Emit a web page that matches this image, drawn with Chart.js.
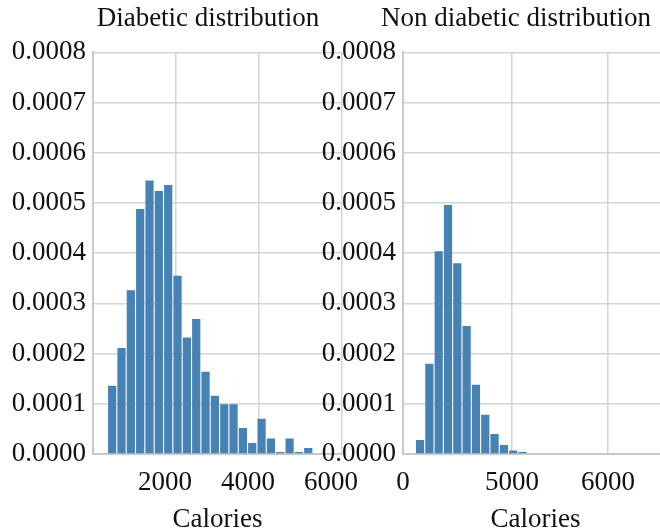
<!DOCTYPE html>
<html>
<head>
<meta charset="utf-8">
<script src="https://cdn.jsdelivr.net/npm/chart.js@4/dist/chart.umd.min.js"></script>
<style>
  html, body { margin: 0; padding: 0; background: #fff; overflow: hidden; width: 660px; height: 529px; }
  canvas { position: absolute; top: 0; }
  #leftChart { left: 0; }
  #rightChart { left: 320px; }
</style>
</head>
<body>
<canvas id="leftChart" width="416" height="540"></canvas>
<canvas id="rightChart" width="392" height="540"></canvas>
<script>
  // histogram bin centres (calories) and densities
  const diabeticBins = [462, 687, 912, 1137, 1362, 1587, 1812, 2037, 2262, 2487, 2712,
    2937, 3162, 3387, 3612, 3837, 4062, 4287, 4512, 4737, 4962, 5187];
  const diabeticDensity = [0.000136, 0.000211, 0.000326, 0.000488, 0.000545, 0.000524,
    0.000536, 0.000355, 0.000232, 0.000269, 0.000164, 0.000116, 0.000099, 0.000099,
    0.000052, 0.000022, 0.00007, 0.000031, 0.000004, 0.000031, 0.000004, 0.000012];

  const nonDiabeticBins = [412, 637, 862, 1087, 1312, 1537, 1762, 1987, 2212, 2437, 2662, 2887];
  const nonDiabeticDensity = [0.000028, 0.00018, 0.000404, 0.000496, 0.00038, 0.000255,
    0.000138, 0.000078, 0.00004, 0.000018, 0.000007, 0.000004];

  // x tick positions and the labels printed under them
  const leftTickValues = [2000, 4000, 6000];
  const leftTickLabels = ["2000", "4000", "6000"];
  const rightTickValues = [0, 2630, 4950];
  const rightTickLabels = ["0", "5000", "6000"];

  const serif = "'Liberation Serif', 'Times New Roman', serif";
  const gridColor = "#d4d4d4";
  const barColor = "#4682b4";

  // spacerWidth: empty right-hand box so the title centres where the original has it
  function makeChart(id, title, bins, values, xMax, tickValues, tickLabels, yWidth, spacerWidth, labelOffset) {
    new Chart(document.getElementById(id), {
      type: "bar",
      data: {
        datasets: [
          {
            data: bins.map((b, i) => ({ x: b, y: values[i] })),
            backgroundColor: barColor,
            barPercentage: 0.88,
            categoryPercentage: 1,
          },
        ],
      },
      options: {
        responsive: false,
        animation: false,
        layout: { padding: 0 },
        plugins: {
          legend: { display: false },
          tooltip: { enabled: false },
          title: {
            display: true,
            text: title,
            color: "#111",
            font: { family: serif, size: 27, weight: "normal" },
            padding: { top: 3, bottom: 17 },
          },
        },
        scales: {
          x: {
            type: "linear",
            min: 0,
            max: xMax,
            offset: false,
            afterBuildTicks: (scale) => {
              scale.ticks = tickValues.map((v) => ({ value: v }));
            },
            afterFit: (scale) => {
              scale.height = 86;
            },
            grid: { color: gridColor, lineWidth: 1.5, drawTicks: false, offset: false },
            border: { color: "#c8c8c8", width: 2 },
            ticks: {
              autoSkip: false,
              maxRotation: 0,
              padding: 13,
              labelOffset: labelOffset,
              color: "#111",
              font: { family: serif, size: 27 },
              callback: (value, index) => tickLabels[index],
            },
            title: {
              display: true,
              text: "Calories",
              color: "#111",
              font: { family: serif, size: 27 },
              padding: { top: 0, bottom: 4 },
            },
          },
          y: {
            min: 0,
            max: 0.0008,
            afterFit: (scale) => {
              scale.width = yWidth;
            },
            grid: { color: gridColor, lineWidth: 1.5, drawTicks: false },
            border: { color: "#c8c8c8", width: 2 },
            ticks: {
              stepSize: 0.0001,
              padding: 7,
              color: "#111",
              font: { family: serif, size: 27 },
              callback: (value) => value.toFixed(4),
            },
          },
          spacer: {
            position: "right",
            grid: { display: false },
            border: { display: false },
            ticks: { display: false },
            afterFit: (scale) => {
              scale.width = spacerWidth;
            },
          },
        },
      },
    });
  }

  makeChart("leftChart", "Diabetic distribution", diabeticBins, diabeticDensity,
    6000, leftTickValues, leftTickLabels, 93, 74, -11);
  makeChart("rightChart", "Non diabetic distribution", nonDiabeticBins, nonDiabeticDensity,
    6400, rightTickValues, rightTickLabels, 83, 44, 0);
</script>
</body>
</html>
